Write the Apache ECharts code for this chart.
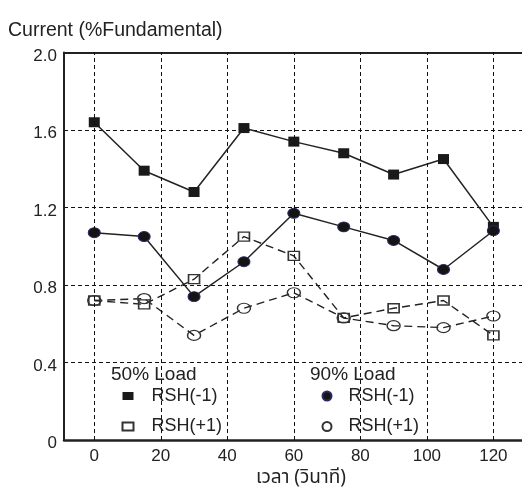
<!DOCTYPE html>
<html>
<head>
<meta charset="utf-8">
<script src="https://cdn.jsdelivr.net/npm/echarts@6/dist/echarts.min.js"></script>
<style>
  html, body { margin: 0; padding: 0; background: #fff; }
  #chart { width: 522px; height: 488px; }
</style>
</head>
<body>
<div id="chart"></div>
<script>
// Sampling times (seconds)
const times = [0, 15, 30, 45, 60, 75, 90, 105, 120];
// Tick values for the time axis
const xTicks = [0, 20, 40, 60, 80, 100, 120];
// Current harmonic level (% of fundamental)
const load50Minus = [1.64, 1.39, 1.28, 1.61, 1.54, 1.48, 1.37, 1.45, 1.10];
const load90Minus = [1.07, 1.05, 0.74, 0.92, 1.17, 1.10, 1.03, 0.88, 1.08];
const load50Plus  = [0.72, 0.70, 0.83, 1.05, 0.95, 0.63, 0.68, 0.72, 0.54];
const load90Plus  = [0.72, 0.73, 0.54, 0.68, 0.76, 0.63, 0.59, 0.58, 0.64];

const FONT = '"Liberation Sans", Arial, Helvetica, sans-serif';
const INK = '#222';

const pairs = vals => times.map((t, i) => [t, vals[i]]);

const chart = echarts.init(document.getElementById('chart'), null, { renderer: 'canvas' });

chart.setOption({
  animation: false,
  backgroundColor: '#fff',
  textStyle: { fontFamily: FONT, color: INK },
  title: {
    text: 'Current (%Fundamental)',
    left: 8,
    top: 21,
    padding: 0,
    textStyle: { fontFamily: FONT, fontSize: 19.5, fontWeight: 'normal', color: INK }
  },
  grid: {
    left: 64, right: 0, top: 52.5, bottom: 48,
    containLabel: false,
    outerBoundsMode: 'none'
  },
  xAxis: [{
    type: 'value',
    min: -9.1,
    max: 128.6,
    name: 'เวลา (วินาที)',
    nameLocation: 'middle',
    nameGap: 30,
    nameTextStyle: {
      fontFamily: '"Noto Sans Thai", "Noto Sans", "DejaVu Sans", sans-serif',
      fontSize: 19, color: INK, padding: [0, 0, 0, 16]
    },
    axisLine: { show: true, onZero: false, lineStyle: { color: INK, width: 2.5 } },
    axisTick: { show: false },
    splitLine: { show: false },
    axisLabel: {
      customValues: xTicks,
      fontSize: 17, color: INK, margin: 8, fontFamily: FONT
    }
  }, {
    type: 'value',
    position: 'top',
    min: -9.1,
    max: 128.6,
    axisLine: { show: true, onZero: false, lineStyle: { color: INK, width: 2 } },
    axisTick: { show: false },
    axisLabel: { show: false },
    splitLine: { show: false }
  }],
  yAxis: {
    type: 'value',
    min: 0,
    max: 2.0,
    interval: 0.4,
    axisLine: { show: true, onZero: false, lineStyle: { color: INK, width: 2 } },
    axisTick: { show: false },
    axisLabel: {
      fontSize: 17, color: INK, margin: 7, fontFamily: FONT,
      verticalAlign: 'top',
      lineHeight: 7,
      formatter: v => (v === 0 ? '0' : v.toFixed(1))
    },
    splitLine: { show: true, lineStyle: { color: '#111', width: 1, type: [4, 3] } }
  },
  legend: [{
    orient: 'vertical',
    left: 121.5,
    top: 387,
    padding: 0,
    itemGap: 12.5,
    itemWidth: 11,
    itemHeight: 8,
    symbolKeepAspect: false,
    selectedMode: false,
    textStyle: { fontFamily: FONT, fontSize: 18, color: INK, padding: [0, 0, 0, 13] },
    formatter: n => n.replace(/^\d+% Load /, ''),
    data: [
      { name: '50% Load RSH(-1)', icon: 'rect' },
      { name: '50% Load RSH(+1)', icon: 'rect' }
    ]
  }, {
    orient: 'vertical',
    left: 321.5,
    top: 387,
    padding: 0,
    itemGap: 12.5,
    itemWidth: 13,
    itemHeight: 9,
    symbolKeepAspect: false,
    selectedMode: false,
    textStyle: { fontFamily: FONT, fontSize: 18, color: INK, padding: [0, 0, 0, 10] },
    formatter: n => n.replace(/^\d+% Load /, ''),
    data: [
      { name: '90% Load RSH(-1)', icon: 'circle' },
      { name: '90% Load RSH(+1)', icon: 'circle' }
    ]
  }],
  graphic: [{
    type: 'text', left: 111, top: 365,
    style: { text: '50% Load', font: '19px ' + FONT, fill: INK }
  }, {
    type: 'text', left: 310, top: 365,
    style: { text: '90% Load', font: '19px ' + FONT, fill: INK }
  }],
  series: [{
    name: '50% Load RSH(-1)',
    type: 'line',
    data: pairs(load50Minus),
    symbol: 'rect',
    symbolSize: [11, 10],
    itemStyle: { color: '#1a1a1a', borderColor: '#1a1a1a', borderWidth: 0 },
    lineStyle: { color: INK, width: 1.5, type: 'solid' },
    markLine: {
      silent: true,
      symbol: ['none', 'none'],
      label: { show: false },
      emphasis: { disabled: true },
      lineStyle: { color: '#111', width: 1, type: [4, 3] },
      data: xTicks.map(v => ({ xAxis: v }))
    },
    z: 3
  }, {
    name: '90% Load RSH(-1)',
    type: 'line',
    data: pairs(load90Minus),
    symbol: 'circle',
    symbolSize: [12, 10],
    itemStyle: { color: '#141414', borderColor: '#2a2a60', borderWidth: 1 },
    lineStyle: { color: INK, width: 1.5, type: 'solid' },
    z: 3
  }, {
    name: '50% Load RSH(+1)',
    type: 'line',
    data: pairs(load50Plus),
    symbol: 'rect',
    symbolSize: [11, 9],
    itemStyle: { color: 'rgba(255,255,255,0)', borderColor: '#333', borderWidth: 1.5 },
    lineStyle: { color: INK, width: 1.4, type: [8, 5] },
    z: 4
  }, {
    name: '90% Load RSH(+1)',
    type: 'line',
    data: pairs(load90Plus),
    symbol: 'circle',
    symbolSize: [13, 10],
    itemStyle: { color: 'rgba(255,255,255,0)', borderColor: '#333', borderWidth: 1.3 },
    lineStyle: { color: INK, width: 1.4, type: [8, 5] },
    z: 4
  }]
});
</script>
</body>
</html>
